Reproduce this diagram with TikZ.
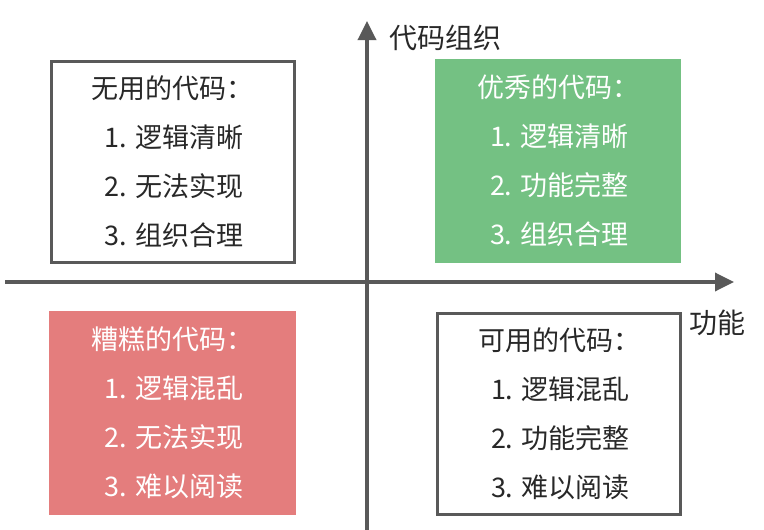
\documentclass[tikz,border=0pt]{standalone}
\usepackage{fontspec}
\setmainfont{Noto Sans CJK SC}
\usetikzlibrary{arrows.meta, positioning}
\definecolor{axisgray}{RGB}{89,89,89}
\definecolor{boxgreen}{RGB}{116,193,131}
\definecolor{boxred}{RGB}{228,125,125}
\definecolor{textdark}{RGB}{40,40,40}
\tikzset{
  quad/.style={rectangle, minimum width=243pt, minimum height=201pt,
    align=left, inner sep=0pt, font=\fontsize{27}{49}\selectfont},
  plainquad/.style={quad, draw=axisgray, fill=white, text=textdark, line width=3pt},
  greenquad/.style={quad, fill=boxgreen, text=white},
  redquad/.style={quad, fill=boxred, text=white},
  axis/.style={-{Triangle[length=19pt, width=18pt]}, line width=3.5pt, color=axisgray},
  axislabel/.style={font=\fontsize{28}{30}\selectfont, text=textdark, inner sep=0pt}
}

\begin{document}
\begin{tikzpicture}[x=1pt, y=-1pt]
  \useasboundingbox (0,0) rectangle (764,530);

  % Axes
  \coordinate (xstart) at (5,282);
  \coordinate (xend) at (734,282);
  \coordinate (ystart) at (367,530);
  \coordinate (yend) at (367,21);
  \draw[axis] (xstart) -- (xend);
  \draw[axis] (ystart) -- (yend);
  \node[axislabel, anchor=west] (ylabel) at (389,38) {代码组织};
  \node[axislabel, anchor=west] (xlabel) at (689,323) {功能};

  % Quadrants
  \node[plainquad] (useless) at (172.5,161.5) {无用的代码：\\
    \hspace{13pt}1. 逻辑清晰\\ \hspace{13pt}2. 无法实现\\ \hspace{13pt}3. 组织合理};
  \node[greenquad, minimum width=246pt, minimum height=204pt] (excellent) at (558,161) {优秀的代码：\\
    \hspace{13pt}1. 逻辑清晰\\ \hspace{13pt}2. 功能完整\\ \hspace{13pt}3. 组织合理};
  \node[redquad, minimum width=247pt, minimum height=204pt] (bad) at (172.5,413) {糟糕的代码：\\
    \hspace{13pt}1. 逻辑混乱\\ \hspace{13pt}2. 无法实现\\ \hspace{13pt}3. 难以阅读};
  \node[plainquad] (usable) at (559,413.5) {可用的代码：\\
    \hspace{13pt}1. 逻辑混乱\\ \hspace{13pt}2. 功能完整\\ \hspace{13pt}3. 难以阅读};
\end{tikzpicture}
\end{document}
